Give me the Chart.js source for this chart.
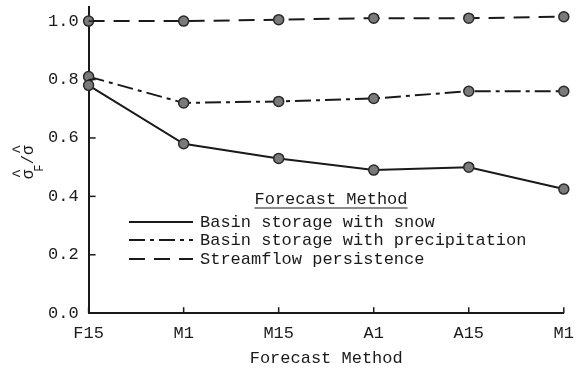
<!DOCTYPE html>
<html>
<head>
<meta charset="utf-8">
<script src="https://cdn.jsdelivr.net/npm/chart.js@4"></script>
<style>
  html, body { margin: 0; padding: 0; background: #fff; }
  #wrap { width: 584px; height: 374px; }
</style>
</head>
<body>
<div id="wrap"><canvas id="chart" width="584" height="374"></canvas></div>
<script>
// --- data ---
const categories = ['F15', 'M1', 'M15', 'A1', 'A15', 'M1'];
const snowValues = [0.78, 0.58, 0.53, 0.49, 0.50, 0.425];
const precipValues = [0.81, 0.72, 0.725, 0.735, 0.76, 0.76];
const persistValues = [1.0, 1.0, 1.005, 1.01, 1.01, 1.015];
const yTicks = [0, 0.2, 0.4, 0.6, 0.8, 1.0];
const yTop = 1.05; // axis runs a little past the last labelled tick

const seriesNames = [
    'Basin storage with snow',
    'Basin storage with precipitation',
    'Streamflow persistence'
];

const FONT = '"Liberation Mono", "DejaVu Sans Mono", monospace';
const INK = '#1a1a1a';

function lineSet(label, data, dash) {
    return {
        label: label,
        data: data,
        borderColor: INK,
        borderWidth: 2,
        borderDash: dash,
        pointRadius: 5,
        pointBackgroundColor: '#7a7a7a',
        pointBorderColor: '#2a2a2a',
        pointBorderWidth: 1.5,
        tension: 0,
        fill: false
    };
}

// inside tick marks on both axes
const innerTicks = {
    id: 'innerTicks',
    afterDraw(chart) {
        const ctx = chart.ctx;
        const x = chart.scales.x, y = chart.scales.y;
        ctx.save();
        ctx.strokeStyle = INK;
        ctx.lineWidth = 1.5;
        yTicks.forEach(v => {
            const py = y.getPixelForValue(v);
            ctx.beginPath();
            ctx.moveTo(x.left, py);
            ctx.lineTo(x.left + 7, py);
            ctx.stroke();
        });
        categories.forEach((c, i) => {
            const px = x.getPixelForValue(i);
            ctx.beginPath();
            ctx.moveTo(px, y.bottom);
            ctx.lineTo(px, y.bottom - 6);
            ctx.stroke();
        });
        ctx.restore();
    }
};

// y axis title: sigma-hat_F / sigma-hat, rotated
const yTitle = {
    id: 'yTitle',
    afterDraw(chart) {
        const ctx = chart.ctx;
        const y = chart.scales.y;
        ctx.save();
        ctx.translate(33, y.getPixelForValue(0.52));
        ctx.rotate(-Math.PI / 2);
        ctx.fillStyle = INK;
        ctx.textBaseline = 'alphabetic';
        ctx.font = '16px ' + FONT;
        const sw = ctx.measureText('σ').width;
        ctx.font = '12px ' + FONT;
        const fw = ctx.measureText('F').width;
        ctx.font = '16px ' + FONT;
        const slw = ctx.measureText('/').width;
        const total = sw + fw + slw + sw;
        let cx = -total / 2;
        ctx.fillText('σ', cx, 0);
        ctx.fillText('^', cx + 1, -9);
        cx += sw;
        ctx.font = '12px ' + FONT;
        ctx.fillText('F', cx - 2, 10);
        cx += fw - 2;
        ctx.font = '16px ' + FONT;
        ctx.fillText('/', cx, 0);
        cx += slw;
        ctx.fillText('σ', cx, 0);
        ctx.fillText('^', cx + 1, -9);
        ctx.restore();
    }
};

// legend box in the lower middle of the plot
const boxLegend = {
    id: 'boxLegend',
    afterDraw(chart) {
        const ctx = chart.ctx;
        ctx.save();
        ctx.fillStyle = INK;
        ctx.strokeStyle = INK;
        ctx.font = '17px ' + FONT;
        ctx.textBaseline = 'middle';
        ctx.textAlign = 'center';
        const title = 'Forecast Method';
        const tx = 331, ty = 199;
        ctx.fillText(title, tx, ty);
        const tw = ctx.measureText(title).width;
        ctx.lineWidth = 1.2;
        ctx.beginPath();
        ctx.moveTo(tx - tw / 2, ty + 9);
        ctx.lineTo(tx + tw / 2, ty + 9);
        ctx.stroke();

        ctx.textAlign = 'left';
        const rows = [222, 240, 259];
        chart.data.datasets.forEach((ds, i) => {
            const ry = rows[i];
            ctx.lineWidth = 2;
            ctx.setLineDash(ds.borderDash || []);
            ctx.beginPath();
            ctx.moveTo(129, ry);
            ctx.lineTo(193, ry);
            ctx.stroke();
            ctx.setLineDash([]);
            ctx.fillText(ds.label, 200, ry);
        });
        ctx.restore();
    }
};

new Chart(document.getElementById('chart'), {
    type: 'line',
    data: {
        labels: categories,
        datasets: [
            lineSet(seriesNames[0], snowValues, []),
            lineSet(seriesNames[1], precipValues, [16, 5, 4, 5]),
            lineSet(seriesNames[2], persistValues, [16, 9])
        ]
    },
    options: {
        responsive: false,
        animation: false,
        layout: { padding: { left: 38, right: 14, top: 5, bottom: 0 } },
        plugins: {
            legend: { display: false },
            tooltip: { enabled: false }
        },
        scales: {
            x: {
                offset: false,
                grid: { display: false, drawTicks: false },
                border: { display: true, color: INK, width: 2 },
                ticks: {
                    color: INK,
                    padding: 10,
                    maxRotation: 0,
                    autoSkip: false,
                    font: { family: FONT, size: 17 }
                },
                title: {
                    display: true,
                    text: 'Forecast Method',
                    color: INK,
                    padding: { top: -5, bottom: 5 },
                    font: { family: FONT, size: 17 }
                }
            },
            y: {
                min: 0,
                max: yTop,
                afterBuildTicks(axis) {
                    axis.ticks = yTicks.concat([yTop]).map(v => ({ value: v }));
                },
                afterFit(axis) {
                    axis.paddingTop = 0;
                },
                grid: { display: false, drawTicks: false },
                border: { display: true, color: INK, width: 2 },
                ticks: {
                    color: INK,
                    padding: 10,
                    font: { family: FONT, size: 17 },
                    callback: v => (v > 1.0001 ? null : v.toFixed(1))
                }
            }
        }
    },
    plugins: [innerTicks, yTitle, boxLegend]
});
</script>
</body>
</html>
